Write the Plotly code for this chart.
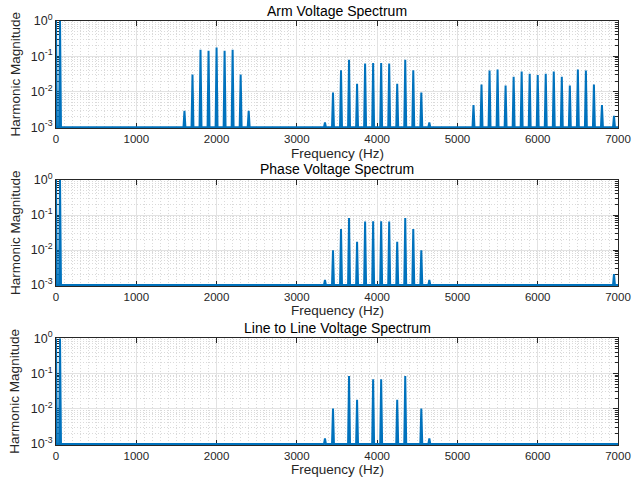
import plotly.graph_objects as go

# ---------------- data ----------------
titles = ["Arm Voltage Spectrum", "Phase Voltage Spectrum", "Line to Line Voltage Spectrum"]
x_label = "Frequency (Hz)"
y_label = "Harmonic Magnitude"

x_tick_vals = [0, 1000, 2000, 3000, 4000, 5000, 6000, 7000]
y_tick_vals = [1e-3, 1e-2, 1e-1, 1]
y_tick_text = ["10<sup>-3</sup>", "10<sup>-2</sup>", "10<sup>-1</sup>", "10<sup>0</sup>"]

floor_value = 1e-3

arm_freq = [0, 50,
            1600, 1700, 1800, 1900, 2000, 2100, 2200, 2300, 2400,
            3350, 3450, 3550, 3650, 3750, 3850, 3950, 4050, 4150, 4250, 4350, 4450, 4550, 4650,
            5200, 5300, 5400, 5500, 5600, 5700, 5800, 5900, 6000, 6100, 6200, 6300, 6400, 6500,
            6600, 6700, 6800, 6950]
arm_mag = [1.0, 1.0,
           0.0029, 0.0307, 0.152, 0.143, 0.177, 0.143, 0.152, 0.0307, 0.0029,
           0.00138, 0.0095, 0.0405, 0.080, 0.0169, 0.0621, 0.0648, 0.0648, 0.0621, 0.0169, 0.080,
           0.0405, 0.0095, 0.00138,
           0.0042, 0.0161, 0.0396, 0.0423, 0.0151, 0.0264, 0.0372, 0.032, 0.0294, 0.032, 0.0372,
           0.0264, 0.0151, 0.0423, 0.0396, 0.0161, 0.0042, 0.0021]

phase_freq = [0, 50,
              3350, 3450, 3550, 3650, 3750, 3850, 3950, 4050, 4150, 4250, 4350, 4450, 4550, 4650,
              6950]
phase_mag = [1.0, 1.0,
             0.00139, 0.0098, 0.040, 0.082, 0.0172, 0.0648, 0.066, 0.066, 0.0648, 0.0172, 0.082,
             0.040, 0.0098, 0.00139,
             0.00205]

line_freq = [0, 50,
             3350, 3450, 3650, 3750, 3950, 4050, 4250, 4350, 4550, 4650]
line_mag = [1.0, 1.0,
            0.00145, 0.0101, 0.0855, 0.0181, 0.0689, 0.0689, 0.0181, 0.0855, 0.0101, 0.00145]

series = [(arm_freq, arm_mag), (phase_freq, phase_mag), (line_freq, line_mag)]

# ---------------- styling ----------------
FONT = "Liberation Sans, Arial, Helvetica, sans-serif"
LINE_COLOR = "#0072BD"
AX_COLOR = "#262626"
W, H = 633, 482
SPIKE_HALF = 12   # Hz, half width of each drawn spike
X_MAX = 7000

# plot-area pixel boxes (left, right, top, bottom)
boxes = [(56, 618, 20.7, 128.3), (56, 618, 180, 286), (56, 618, 338.3, 445)]
title_y = [11, 169, 328]
xlabel_y = [153.5, 310, 469.5]


def spike_path(freqs, mags):
    xs, ys = [], []
    for f, m in sorted(zip(freqs, mags)):
        if f - SPIKE_HALF >= 0:
            xs.append(f - SPIKE_HALF); ys.append(floor_value)
        xs.append(f); ys.append(m)
        xs.append(f + SPIKE_HALF); ys.append(floor_value)
    xs.append(X_MAX); ys.append(floor_value)
    return xs, ys


minor_y = [k * 10 ** e for e in (-3, -2, -1) for k in range(2, 10)]

fig = go.Figure()
annotations = []
layout_axes = {}
for i, ((fr, mg), box, ttl) in enumerate(zip(series, boxes, titles)):
    n = i + 1
    xs, ys = spike_path(fr, mg)
    fig.add_trace(go.Scatter(
        x=xs, y=ys, mode="lines",
        line=dict(color=LINE_COLOR, width=2),
        xaxis=f"x{n}" if n > 1 else "x", yaxis=f"y{n}" if n > 1 else "y",
        showlegend=False, hoverinfo="skip"))
    l, r, t, b = box
    xa = dict(
        domain=[l / W, r / W], anchor=f"y{n}" if n > 1 else "y",
        range=[0, X_MAX], tickvals=x_tick_vals, automargin=False,
        ticks="inside", ticklen=5, tickwidth=1, tickcolor=AX_COLOR,
        showline=True, linecolor=AX_COLOR, linewidth=1, mirror="allticks",
        showgrid=True, gridcolor="#e2e2e2", gridwidth=1, zeroline=False,
        minor=dict(dtick=100, showgrid=True, gridcolor="#dadada", griddash="1px,2px",
                   gridwidth=1, ticks=""),
        tickfont=dict(family=FONT, size=11.5, color=AX_COLOR),
        layer="below traces", fixedrange=True,
    )
    ya = dict(
        domain=[1 - b / H, 1 - t / H], anchor=f"x{n}" if n > 1 else "x",
        type="log", range=[-3.028, 0], automargin=False,
        tickvals=y_tick_vals, ticktext=y_tick_text,
        ticks="inside", ticklen=5, tickwidth=1, tickcolor=AX_COLOR,
        showline=True, linecolor=AX_COLOR, linewidth=1, mirror="allticks",
        showgrid=True, gridcolor="#e2e2e2", gridwidth=1, zeroline=False,
        minor=dict(tickvals=minor_y, showgrid=True, gridcolor="#dadada", griddash="1px,2px",
                   gridwidth=1, ticks="inside", ticklen=3, tickcolor=AX_COLOR),
        tickfont=dict(family=FONT, size=12.5, color=AX_COLOR),
        layer="below traces", fixedrange=True,
    )
    layout_axes[f"xaxis{n}" if n > 1 else "xaxis"] = xa
    layout_axes[f"yaxis{n}" if n > 1 else "yaxis"] = ya

    cx = (l + r) / 2 / W
    annotations.append(dict(text=ttl, x=cx, y=1 - title_y[i] / H, xref="paper", yref="paper",
                            xanchor="center", yanchor="middle", showarrow=False,
                            font=dict(family=FONT, size=14, color="#000000")))
    annotations.append(dict(text=x_label, x=cx, y=1 - xlabel_y[i] / H, xref="paper", yref="paper",
                            xanchor="center", yanchor="middle", showarrow=False,
                            font=dict(family=FONT, size=13.5, color=AX_COLOR)))
    annotations.append(dict(text=y_label, x=15 / W, y=1 - (t + b) / 2 / H, xref="paper",
                            yref="paper", xanchor="center", yanchor="middle", textangle=-90,
                            showarrow=False, font=dict(family=FONT, size=13.5, color=AX_COLOR)))

fig.update_layout(
    width=W, height=H, margin=dict(l=0, r=0, t=0, b=0, autoexpand=False),
    paper_bgcolor="white", plot_bgcolor="white",
    annotations=annotations, **layout_axes,
)

fig.write_html("out.html", config={"displayModeBar": False})
